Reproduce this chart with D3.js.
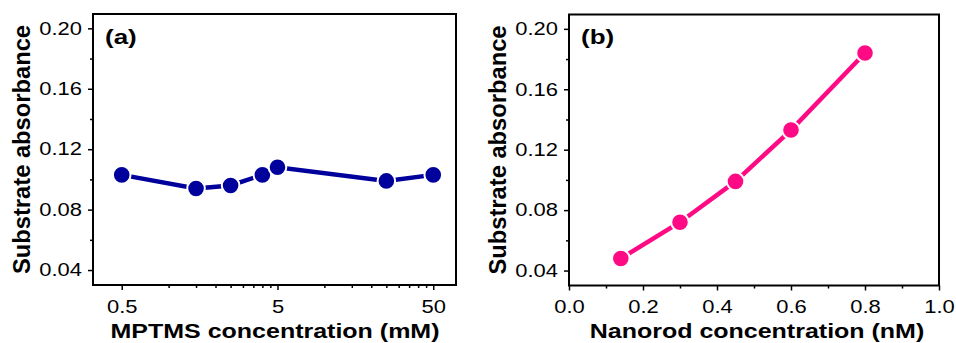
<!DOCTYPE html>
<html><head><meta charset="utf-8">
<script src="https://cdn.jsdelivr.net/npm/d3@7"></script>
<style>body{margin:0;background:#fff}svg{display:block}text{font-family:"Liberation Sans",Arial,sans-serif}</style>
</head><body><svg id="c" width="956" height="343"></svg>
<script>
// ---- data ----
const mptmsConc = [0.5, 1.5, 2.5, 4, 5, 25, 50];
const mptmsAbs  = [0.103, 0.094, 0.096, 0.103, 0.108, 0.099, 0.103];
const nanorodConc = [0.14, 0.30, 0.45, 0.60, 0.80];
const nanorodAbs  = [0.048, 0.072, 0.099, 0.133, 0.184];
const yTicks = [0.04, 0.08, 0.12, 0.16, 0.20];
const yMinor = [0.06, 0.10, 0.14, 0.18];
const xTicksA = [0.5, 5, 50];
const xMinorA = [1, 1.5, 2, 2.5, 3, 3.5, 4, 4.5, 10, 15, 20, 25, 30, 35, 40, 45];
const xTicksB = [0, 0.2, 0.4, 0.6, 0.8, 1.0];
const xMinorB = [0.1, 0.3, 0.5, 0.7, 0.9];

const svg = d3.select("#c");
const SX = 1.22;   // horizontal stretch of the reference text

function panel(o) {
  const g = svg.append("g");
  const x = o.x, y = o.y;
  const [x0, x1] = x.range(), [y1, y0] = y.range();
  // minor ticks
  g.append("g").attr("transform", `translate(0,${y1})`)
    .call(d3.axisBottom(x).tickValues(o.xMinor).tickSize(3).tickFormat(""))
    .call(a => a.select(".domain").remove())
    .selectAll("line").attr("stroke-width", 1.5);
  g.append("g").attr("transform", `translate(${x0},0)`)
    .call(d3.axisLeft(y).tickValues(yMinor).tickSize(3).tickFormat(""))
    .call(a => a.select(".domain").remove())
    .selectAll("line").attr("stroke-width", 1.5);
  // major
  const xa = g.append("g").attr("transform", `translate(0,${y1})`)
    .call(d3.axisBottom(x).tickValues(o.xTicks).tickSize(5).tickPadding(10).tickFormat(o.xFmt));
  const ya = g.append("g").attr("transform", `translate(${x0},0)`)
    .call(d3.axisLeft(y).tickValues(yTicks).tickSize(5).tickPadding(4).tickFormat(d3.format(".2f")));
  [xa, ya].forEach(a => {
    a.select(".domain").remove();
    a.selectAll("line").attr("stroke-width", 1.5);
    a.selectAll("text").attr("font-size", 18).attr("fill", "#000")
      .attr("font-family", "Liberation Sans, Arial, sans-serif")
      .attr("transform", `scale(${SX},1)`);
  });
  // frame
  g.append("rect").attr("x", x0).attr("y", y0).attr("width", x1 - x0).attr("height", y1 - y0)
    .attr("fill", "none").attr("stroke", "#000").attr("stroke-width", 2);
  // line + markers
  const pts = o.xs.map((v, i) => [x(v), y(o.ys[i])]);
  g.append("path").attr("d", d3.line()(pts)).attr("fill", "none")
    .attr("stroke", o.color).attr("stroke-width", 4.5);
  g.selectAll("circle.m").data(pts).join("circle")
    .attr("cx", d => d[0]).attr("cy", d => d[1]).attr("r", 8.8)
    .attr("fill", o.color).attr("stroke", "#fff").attr("stroke-width", 2);
  // labels
  g.append("text").attr("transform", `translate(${x0 + 12},44) scale(1.3,1)`)
    .attr("font-size", 20).attr("font-weight", "bold").text(o.tag);
  g.append("text")
    .attr("transform", `translate(${x0 - 63},${(y0 + y1) / 2}) scale(1.12,1) rotate(-90) scale(1.13,1)`)
    .attr("text-anchor", "middle").attr("font-size", 21).attr("font-weight", "bold")
    .text("Substrate absorbance");
  g.append("text")
    .attr("transform", `translate(${o.titleX},338) scale(1.25,1)`)
    .attr("text-anchor", "middle").attr("font-size", 20).attr("font-weight", "bold")
    .text(o.title);
}

const yA = d3.scaleLinear().domain([0.0301, 0.2095]).range([285, 14]);
const xA = d3.scaleLog().domain([0.327, 70]).range([93, 456]);
panel({x: xA, y: yA, xTicks: xTicksA, xMinor: xMinorA, xFmt: d => String(d),
  xs: mptmsConc, ys: mptmsAbs, color: "#00009c", tag: "(a)",
  title: "MPTMS concentration (mM)", titleX: 275});

const yB = d3.scaleLinear().domain([0.0301, 0.2095]).range([285.5, 14.5]);
const xB = d3.scaleLinear().domain([0, 1]).range([569, 939]);
panel({x: xB, y: yB, xTicks: xTicksB, xMinor: xMinorB, xFmt: d3.format(".1f"),
  xs: nanorodConc, ys: nanorodAbs, color: "#ff0a85", tag: "(b)",
  title: "Nanorod concentration (nM)", titleX: 757});
</script></body></html>
